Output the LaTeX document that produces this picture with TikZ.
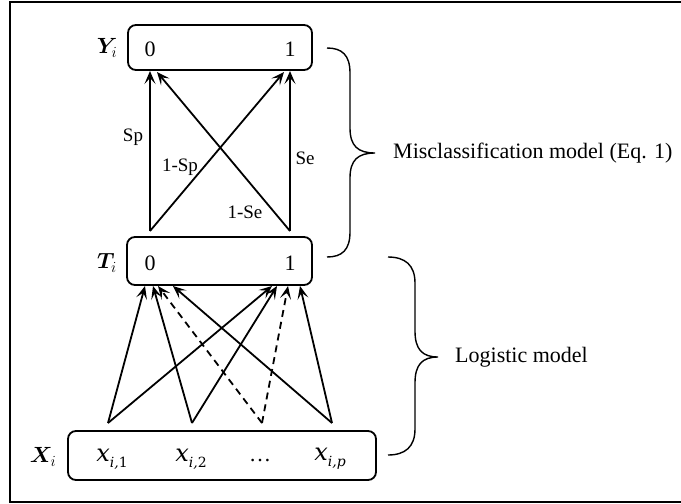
\RequirePackage{fix-cm}
\documentclass[tikz,border=0pt]{standalone}
\usepackage{amsmath,bm}
\usepackage{fontspec}
\setmainfont{Liberation Serif}
\newfontfamily\xfont{DejaVu Serif}
\newcommand\xvar[1]{{\xfont\itshape x}\raisebox{-6pt}{\fontsize{14}{16}\selectfont\xfont\itshape i,#1}}
\usetikzlibrary{arrows.meta}
\tikzset{
  box/.style={draw, line width=1.8pt, rounded corners=8pt, inner sep=0pt},
  big/.style={font=\fontsize{22}{26}\selectfont, inner sep=0pt},
  mathlab/.style={font=\fontsize{22}{26}\selectfont, inner sep=0pt},
  mathvar/.style={font=\fontsize{24}{28}\selectfont, inner sep=0pt},
  small/.style={font=\fontsize{19}{22}\selectfont, inner sep=0pt},
  arr/.style={line width=1.8pt, -{Stealth[length=13pt,width=11pt,inset=6pt]}},
  darr/.style={arr, dash pattern=on 7pt off 5pt},
  bracestyle/.style={line width=1.4pt},
}
\begin{document}
\begin{tikzpicture}[x=1pt,y=-1pt]
\useasboundingbox (0,0) rectangle (681,504);
\draw[line width=2pt] (681,2) -- (10,2) -- (10,502) -- (681,502);

% boxes
\node[box, minimum width=184pt, minimum height=45pt] (Ybox) at (220,47.5) {};
\node[box, minimum width=185pt, minimum height=48pt] (Tbox) at (219.5,261) {};
\node[box, minimum width=308pt, minimum height=49pt] (Xbox) at (222,455.5) {};

% labels
\node[mathlab] (Ylab) at (107,48) {$\bm{Y}_i$};
\node[mathlab] (Tlab) at (107,263) {$\bm{T}_i$};
\node[mathlab] (Xlab) at (43,457) {$\bm{X}_i$};

\node[big] (Y0) at (150,49) {0};
\node[big] (Y1) at (290,49) {1};
\node[big] (T0) at (150,263) {0};
\node[big] (T1) at (290,263) {1};

\node[mathvar] (x1) at (112,459) {\xvar{\upshape 1}};
\node[mathvar] (x2) at (191,459) {\xvar{\upshape 2}};
\node[big] (xd) at (260,461) {\ldots};
\node[mathvar] (xp) at (330,459) {\xvar{p}};

% misclassification arrows
\coordinate (tl) at (150,231);
\coordinate (tr) at (290,231);
\coordinate (ya) at (150,71);
\coordinate (yb) at (157,72);
\coordinate (yc) at (284,72);
\coordinate (yd) at (290,71);
\draw[arr] (tl) -- (ya);
\draw[arr] (tl) -- (yc);
\draw[arr] (tr) -- (yb);
\draw[arr] (tr) -- (yd);

\node[small] (sp) at (133,137) {Sp};
\node[small] (nsp) at (180,167) {1-Sp};
\node[small] (se) at (305,158) {Se};
\node[small] (nse) at (245,212) {1-Se};

% logistic arrows
\coordinate (s1) at (108,423);
\coordinate (s2) at (192,423);
\coordinate (s3) at (262,423);
\coordinate (s4) at (332,423);
\coordinate (t1) at (145,286);
\coordinate (t2) at (153,286);
\coordinate (t3) at (158,286);
\coordinate (t4) at (173,286);
\coordinate (t5) at (272,286);
\coordinate (t6) at (277,286);
\coordinate (t7) at (288,286);
\coordinate (t8) at (300,286);
\draw[arr] (s1) -- (t1);
\draw[arr] (s1) -- (t5);
\draw[arr] (s2) -- (t2);
\draw[arr] (s2) -- (t6);
\draw[darr] (s3) -- (t3);
\draw[darr] (s3) -- (t7);
\draw[arr] (s4) -- (t4);
\draw[arr] (s4) -- (t8);

% braces
\draw[bracestyle] (327,48) .. controls (342,48) and (350,55) .. (350,73)
  -- (350,128) .. controls (350,146) and (358,153) .. (375,153)
  .. controls (358,153) and (350,160) .. (350,178)
  -- (350,232) .. controls (350,250) and (342,257) .. (327,257);
\draw[bracestyle] (388,257) .. controls (405,257) and (415,265) .. (415,283)
  -- (415,331) .. controls (415,349) and (422,357) .. (438,357)
  .. controls (422,357) and (415,365) .. (415,383)
  -- (415,429) .. controls (415,447) and (405,455) .. (388,455);

\node[big, anchor=west] (mis) at (393,153) {Misclassification model (Eq. 1)};
\node[big, anchor=west] (log) at (455,357) {Logistic model};
\end{tikzpicture}
\end{document}
